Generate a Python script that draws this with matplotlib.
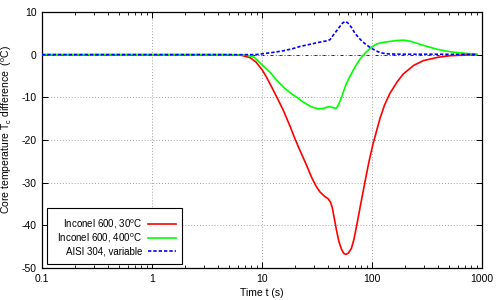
import matplotlib
matplotlib.use("Agg")
import matplotlib.pyplot as plt
from matplotlib.patches import Rectangle
from matplotlib.ticker import FixedLocator, FixedFormatter, LogLocator, NullFormatter

plt.rcParams['font.family'] = ['Liberation Sans', 'DejaVu Sans']
plt.rcParams['mathtext.default'] = 'regular'
plt.rcParams['axes.unicode_minus'] = False
plt.rcParams['font.size'] = 7.5

# Inconel 600, 30 C
t_red = [0.1, 5, 6.5, 7.8, 8.8, 10, 11, 12.2, 13.6, 15.6, 18, 20, 22, 25, 28.3, 31, 33.7, 37, 40,
         42, 43.5, 45.5, 47.7, 50, 53, 55.5, 58, 61, 65, 68.5, 72.6, 79, 86, 94, 102, 118, 130,
         146, 170, 193, 240, 293, 400, 513, 700, 900]
v_red = [0, 0, -0.15, -0.7, -1.7, -3.5, -5.3, -7.5, -9.9, -13, -16.8, -19.8, -22.3, -25.5, -28.8,
         -30.8, -32.2, -33.2, -33.8, -34.6, -35.8, -38.5, -41.3, -43.8, -45.7, -46.6, -46.8, -46.5,
         -45.4, -43.3, -40, -35, -30, -25, -21, -15, -11.8, -9, -6.3, -4.5, -2.5, -1.4, -0.6,
         -0.25, -0.08, 0]

# Inconel 600, 400 C
t_green = [0.1, 5, 7.3, 8.5, 10, 12, 13.6, 16, 18, 20.7, 24, 28, 32.5, 36, 39, 41.5, 44, 47, 49,
           51, 53, 58, 63, 70, 78, 86, 99, 110, 127, 146, 165, 193, 220, 254, 300, 386, 480, 590,
           750, 900]
v_green = [0, 0, -0.1, -0.6, -2.4, -4.3, -6, -7.8, -8.9, -10, -11.2, -12.2, -12.7, -12.6, -12.3,
           -12.2, -12.4, -12.6, -12, -11, -9.9, -7, -5.1, -2.9, -1, 0.3, 1.8, 2.5, 2.9, 3.1, 3.3,
           3.4, 3.2, 2.7, 2.1, 1.3, 0.8, 0.5, 0.25, 0.12]

# AISI 304, variable
t_blue = [0.1, 8, 9, 10, 12, 15.6, 19, 22, 27, 33, 38, 41.5, 44.5, 47.7, 51, 54, 57, 60, 65, 70,
          78, 86, 96, 107, 118, 132, 146, 200, 400, 900]
v_blue = [0, 0, 0.05, 0.2, 0.45, 0.9, 1.4, 1.9, 2.4, 2.9, 3.2, 3.5, 4.6, 5.6, 6.6, 7.4, 7.8, 7.5,
          6.4, 5.0, 3.6, 2.6, 1.7, 1.0, 0.5, 0.25, 0.15, 0.1, 0.1, 0.05]

x_ticks = [0.1, 1, 10, 100, 1000]
x_labels = ['0.1', '1', '10', '100', '1000']
y_ticks = [-50, -40, -30, -20, -10, 0, 10]

fig = plt.figure(figsize=(5, 3), dpi=100)
ax = fig.add_axes([0.084, 0.1067, 0.88, 0.8533])

ax.axhline(0, color='#202020', lw=0.7, ls=(0, (4, 2, 1, 2)), zorder=1)
ax.plot(t_red, v_red, color='#ff0000', lw=1.2, label='Inconel 600, 30$^o$C', zorder=3)
ax.plot(t_green, v_green, color='#00ff00', lw=1.2, label='Inconel 600, 400$^o$C', zorder=3)
ax.plot(t_blue, v_blue, color='#0000ff', lw=1.2, ls=(0, (2, 1.2)), label='AISI 304, variable', zorder=4)

ax.set_xscale('log')
ax.set_xlim(0.1, 1000)
ax.set_ylim(-50, 10)
ax.xaxis.set_major_locator(FixedLocator(x_ticks))
ax.xaxis.set_major_formatter(FixedFormatter(x_labels))
ax.xaxis.set_minor_locator(LogLocator(base=10, subs=range(2, 10)))
ax.xaxis.set_minor_formatter(NullFormatter())
ax.set_yticks(y_ticks)

ax.tick_params(which='major', direction='in', top=True, right=True, length=4, width=0.7, pad=4)
ax.tick_params(which='minor', direction='in', top=True, right=True, length=2, width=0.6)
ax.grid(True, which='major', color='#a0a0a0', ls=(0, (1, 2)), lw=0.7)
for s in ax.spines.values():
    s.set_linewidth(0.9)

ax.set_xlabel('Time t (s)')
ax.set_ylabel('Core temperature T$_c$ difference  ($^o$C)')
ax.xaxis.set_label_coords(0.5, -0.078)
ax.yaxis.set_label_coords(-0.0636, 0.54)

# legend box (gnuplot style: wide left padding)
ax.add_patch(Rectangle((0.0107, 0.0156), 0.308, 0.2176, transform=ax.transAxes,
                       facecolor='white', edgecolor='black', lw=0.8, zorder=5))
leg = ax.legend(loc='center right', bbox_to_anchor=(0.3045, 0.122), borderaxespad=0,
                borderpad=0, markerfirst=False, handlelength=2.9, labelspacing=0.1,
                handletextpad=0.55, frameon=False, fontsize=7)
leg.set_zorder(6)
for txt in leg.get_texts():
    txt.set_ha('right')
leg._legend_box.align = 'right'

fig.savefig('out.png', dpi=100)
